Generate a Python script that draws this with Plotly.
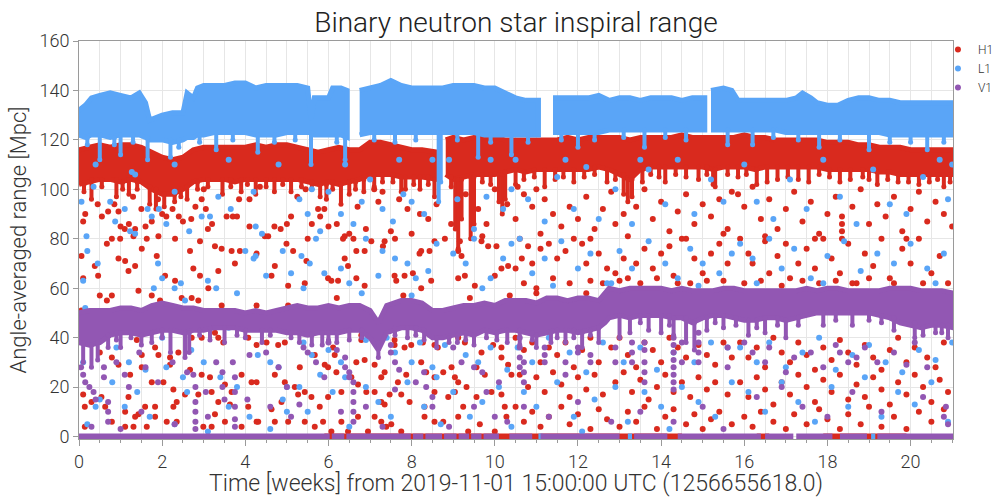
import plotly.graph_objects as go

# ---------------------------------------------------------------------------
# Detector colours
# ---------------------------------------------------------------------------
H1_COLOR = "#d92a1e"
L1_COLOR = "#5aa5f7"
V1_COLOR = "#9257b3"

# ---------------------------------------------------------------------------
# Dense range bands: time [weeks], lower / upper edge [Mpc]; None splits segments
# ---------------------------------------------------------------------------
H1_BAND_T = [0, 0.25, 0.5, 0.75, 1.0, 1.25, 1.5, 1.75, 2.0, 2.25, 2.5, 2.75, 3.0, 3.25, 3.5, 3.75,
             4.0, 4.25, 4.5, 4.75, 5.0, 5.25, 5.5, 5.75, 6.0, 6.25, 6.5, 6.75, 7.0, 7.25, 7.5, 7.75,
             8.0, 8.25, 8.62, None,
             8.82, 9.0, 9.25, 9.5, 9.75, 10.0, 10.25, 10.5, 10.75, 11.0, 11.25, 11.5, 11.75, 12.0,
             12.25, 12.5, 12.75, 13.0, 13.25, 13.5, 13.75, 14.0, 14.25, 14.5, 14.75, 15.0, 15.25,
             15.5, 15.75, 16.0, 16.25, 16.5, 16.75, 17.0, 17.25, 17.5, 17.75, 18.0, 18.25, 18.5,
             18.75, 19.0, 19.25, 19.5, 19.75, 20.0, 20.25, 20.5, 20.75, 21.02]
H1_BAND_LO = [102, 103, 104, 104, 103, 104, 103, 100, 98, 98, 100, 103, 104, 104, 104, 103,
              104, 104, 104, 104, 104, 104, 103, 102, 103, 102, 103, 104, 106, 106, 106, 105,
              105, 105, 104, None,
              106, 104, 105, 106, 106, 106, 107, 108, 107, 108, 108, 108, 108, 108,
              108, 109, 108, 106, 104, 108, 109, 109, 109, 109, 109, 109, 108,
              109, 109, 109, 108, 109, 109, 109, 109, 109, 109, 108, 108, 108,
              108, 108, 107, 107, 106, 106, 106, 106, 106, 106]
H1_BAND_HI = [116, 117, 118, 117, 118, 118, 117, 115, 113, 112, 113, 116, 117, 117, 117, 117,
              117, 118, 117, 118, 118, 117, 116, 115, 116, 117, 116, 116, 119, 119, 118, 117,
              116, 116, 115, None,
              120, 121, 120, 121, 121, 121, 120, 120, 120, 120, 120, 120, 121, 120,
              121, 121, 121, 121, 120, 121, 121, 121, 121, 122, 121, 121, 121,
              121, 121, 122, 121, 121, 120, 120, 120, 120, 120, 119, 119, 119,
              118, 118, 117, 117, 117, 116, 116, 116, 116, 116]

L1_BAND_T = [0, 0.15, 0.3, 0.5, 0.75, 1.0, 1.25, 1.45, 1.6, 1.7, 2.0, 2.25, 2.5, 2.6, 2.75, 2.85,
             3.0, 3.25, 3.5, 3.75, 4.0, 4.25, 4.5, 4.75, 5.0, 5.25, 5.5, 5.58, 5.66, 6.0, 6.1,
             6.3, 6.45, None,
             6.75, 7.0, 7.25, 7.5, 7.75, 8.0, 8.25, 8.5, 8.75, 9.0, 9.25, 9.5, 9.75, 10.0, 10.25,
             10.5, 10.75, 11.05, None,
             11.4, 11.75, 12.0, 12.25, 12.5, 12.75, 13.0, 13.25, 13.5, 13.75, 14.0, 14.25, 14.5,
             14.75, 15.05, None,
             15.2, 15.5, 15.7, 15.85, 16.25, 16.5, 16.75, 17.0, 17.25, 17.4, 17.6, 17.75, 18.0,
             18.25, 18.5, 18.75, 19.0, 19.25, 19.5, 19.75, 20.0, 20.5, 21.02]
L1_BAND_LO = [122, 121, 122, 122, 121, 122, 122, 122, 121, 120, 120, 119, 120, 121, 121, 122,
              122, 123, 123, 123, 123, 122, 122, 122, 123, 123, 123, 123, 122, 122, 122,
              122, 121, None,
              122, 123, 123, 123, 123, 123, 123, 123, 123, 123, 123, 123, 122, 122, 122,
              122, 122, 122, None,
              123, 123, 123, 123, 123, 124, 124, 124, 124, 124, 124, 124, 124,
              124, 124, None,
              124, 124, 124, 124, 124, 124, 124, 123, 123, 123, 123, 123, 123,
              123, 123, 123, 123, 123, 122, 122, 122, 122, 122]
L1_BAND_HI = [132, 134, 137, 138, 139, 138, 137, 139, 135, 128, 130, 131, 131, 139, 137, 141,
              142, 142, 142, 143, 143, 141, 142, 142, 142, 142, 141, 128, 137, 137, 141,
              141, 140, None,
              140, 141, 142, 144, 142, 141, 141, 141, 141, 142, 142, 142, 141, 141, 139,
              137, 136, 136, None,
              137, 137, 137, 137, 138, 136, 137, 137, 136, 137, 137, 137, 136,
              137, 137, None,
              140, 141, 140, 136, 136, 136, 136, 136, 137, 139, 137, 135, 134,
              134, 136, 137, 137, 136, 136, 135, 135, 135, 135]

V1_BAND_T = [0, 0.25, 0.5, 0.75, 1.0, 1.25, 1.5, 1.75, 2.0, 2.25, 2.5, 2.75, 3.0, 3.25, 3.5, 3.75,
             4.0, 4.25, 4.5, 4.75, 5.0, 5.25, 5.5, 5.75, 6.0, 6.25, 6.5, 6.75, 7.0, 7.2, 7.4, 7.75,
             8.0, 8.25, 8.5, 8.75, 9.0, 9.25, 9.5, 9.75, 10.0, 10.25, 10.5, 10.75, 11.0, 11.25,
             11.5, 11.75, 12.0, 12.25, 12.5, 12.65, 12.75, 13.0, 13.25, 13.5, 13.75, 14.0, 14.25,
             14.5, 14.75, 15.0, 15.25, 15.5, 15.75, 16.0, 16.25, 16.5, 16.75, 17.0, 17.25, 17.5,
             17.75, 18.0, 18.25, 18.5, 18.75, 19.0, 19.25, 19.5, 19.75, 20.0, 20.25, 20.5, 20.75,
             21.02]
V1_BAND_LO = [38, 37, 38, 41, 42, 42, 41, 42, 43, 43, 42, 43, 43, 44, 44, 44,
              43, 43, 43, 43, 42, 42, 41, 42, 42, 42, 43, 43, 40, 35, 42, 44,
              44, 43, 40, 40, 41, 42, 41, 43, 42, 43, 43, 42, 41, 42,
              43, 43, 42, 43, 44, 46, 48, 49, 48, 49, 49, 49, 48,
              48, 46, 48, 49, 49, 48, 47, 47, 48, 48, 47, 48, 49,
              50, 50, 50, 50, 50, 50, 49, 48, 46, 45, 44, 45, 45,
              44]
V1_BAND_HI = [50, 51, 51, 51, 52, 52, 51, 53, 54, 53, 52, 52, 51, 51, 51, 51,
              50, 51, 50, 51, 52, 53, 52, 52, 53, 52, 53, 53, 51, 46, 53, 55,
              55, 54, 51, 51, 52, 53, 53, 54, 53, 55, 55, 55, 54, 56,
              56, 55, 56, 56, 55, 58, 60, 59, 60, 60, 60, 60, 59,
              60, 59, 59, 59, 60, 60, 59, 59, 59, 59, 59, 59, 60,
              59, 60, 60, 59, 59, 59, 59, 60, 60, 60, 59, 59, 59,
              58]

# ---------------------------------------------------------------------------
# Short drops below each band: (week, from [Mpc], down to [Mpc])
# ---------------------------------------------------------------------------
H1_DIPS = [(0.3, 104, 96), (0.9, 104, 97), (1.2, 104, 98), (1.7, 101, 94), (1.85, 100, 92),
           (2.05, 98, 93), (2.3, 98, 95), (2.6, 101, 96), (3.45, 104, 98), (3.9, 104, 99),
           (4.25, 104, 98), (4.7, 104, 99), (5.1, 104, 99), (5.8, 102, 97), (5.95, 102, 96),
           (6.3, 102, 94), (6.5, 103, 98), (6.85, 104, 99), (7.1, 106, 101), (7.75, 105, 99),
           (7.85, 105, 100), (8.2, 105, 100), (8.55, 104, 97), (9.05, 104, 84), (9.12, 104, 76),
           (9.2, 104, 88), (9.42, 105, 80), (9.5, 105, 86), (10.1, 106, 95), (10.18, 106, 90),
           (10.25, 107, 96), (10.5, 108, 102), (11.2, 108, 101), (11.9, 108, 103), (12.7, 108, 103),
           (13.1, 106, 98), (13.2, 104, 95), (13.3, 104, 97), (13.55, 108, 103), (14.1, 109, 103),
           (14.9, 109, 104), (15.25, 108, 102), (15.3, 108, 101), (16.3, 108, 102), (16.55, 109, 103),
           (16.8, 109, 104), (17.3, 109, 104), (17.55, 109, 103), (18.3, 108, 103), (19.0, 108, 104),
           (19.2, 107, 102), (20.2, 106, 102), (20.8, 106, 101),
           (0.12, 102, 99), (0.55, 104, 101), (1.05, 103, 100), (1.4, 103, 100), (2.45, 100, 97),
           (2.85, 103, 100), (3.1, 104, 101), (3.65, 104, 101), (4.05, 104, 102), (4.5, 104, 101),
           (4.9, 104, 102), (5.35, 104, 101), (5.6, 103, 100), (6.1, 103, 100), (6.65, 103, 100),
           (7.3, 106, 103), (7.55, 106, 103), (8.05, 105, 102), (8.4, 105, 102), (8.95, 105, 101),
           (9.7, 106, 103), (9.9, 106, 102), (10.7, 107, 104), (10.95, 108, 105), (11.45, 108, 104),
           (11.65, 108, 105), (12.15, 108, 105), (12.4, 109, 106), (12.9, 107, 104), (13.75, 109, 106),
           (13.95, 109, 105), (14.35, 109, 106), (14.6, 109, 105), (15.1, 109, 106), (15.6, 109, 106),
           (15.85, 109, 105), (16.05, 109, 106), (17.05, 109, 105), (17.8, 109, 106), (18.05, 108, 105),
           (18.55, 108, 104), (18.85, 108, 105), (19.45, 107, 104), (19.7, 106, 103), (19.95, 106, 103),
           (20.45, 106, 103), (20.65, 106, 104), (20.95, 106, 103)]
L1_DIPS = [(0.5, 122, 112), (1.0, 122, 114), (1.65, 121, 112), (2.2, 120, 113), (3.3, 123, 116),
           (4.3, 122, 115), (5.58, 123, 110), (6.4, 121, 112), (8.65, 123, 95), (8.7, 123, 103),
           (9.6, 123, 113), (10.4, 122, 114), (12.0, 123, 117), (13.6, 124, 117), (15.6, 124, 118),
           (16.2, 124, 118), (17.8, 123, 117), (19.0, 123, 116), (20.4, 122, 116),
           (0.2, 121, 118), (0.85, 121, 118), (1.3, 122, 119), (2.4, 120, 117), (2.9, 122, 119),
           (3.7, 123, 120), (4.7, 122, 119), (5.2, 123, 120), (6.2, 122, 119), (7.1, 123, 120),
           (7.6, 123, 119), (8.1, 123, 120), (9.1, 123, 120), (9.9, 122, 119), (10.8, 122, 119),
           (11.6, 123, 120), (12.4, 123, 120), (13.1, 124, 121), (14.1, 124, 121), (14.6, 124, 120),
           (16.7, 124, 121), (17.3, 123, 120), (18.3, 123, 120), (19.5, 122, 119), (20.0, 122, 119),
           (20.8, 122, 119)]
V1_DIPS = [(0.1, 38, 30), (0.3, 37, 28), (0.45, 38, 31), (0.7, 41, 36), (1.0, 42, 36),
           (1.5, 41, 37), (1.75, 42, 38), (2.2, 43, 34), (2.55, 42, 32), (2.65, 42, 34),
           (3.15, 44, 39), (3.5, 44, 38), (4.0, 43, 40), (4.4, 43, 38), (5.3, 42, 38),
           (5.6, 41, 37), (5.85, 42, 37), (6.2, 42, 38), (6.5, 43, 39), (7.2, 38, 32),
           (7.9, 44, 40), (8.3, 43, 39), (8.6, 40, 36), (9.1, 41, 38), (9.5, 41, 37),
           (10.3, 43, 38), (10.6, 43, 37), (11.0, 41, 36), (11.35, 42, 38), (11.7, 43, 38),
           (12.1, 42, 36), (12.5, 44, 38), (13.0, 49, 40), (13.25, 48, 42), (13.7, 49, 43),
           (14.0, 49, 42), (14.3, 48, 41), (14.6, 48, 38), (14.8, 46, 35), (15.1, 48, 43),
           (15.5, 49, 44), (16.1, 47, 41), (16.5, 48, 42), (17.0, 47, 40), (17.9, 50, 45),
           (18.6, 50, 45), (19.6, 48, 43), (20.1, 46, 40), (20.6, 46, 42), (20.9, 45, 40),
           (0.9, 42, 39), (1.25, 42, 40), (2.0, 43, 40), (2.9, 43, 41), (3.8, 44, 41),
           (4.6, 43, 41), (5.1, 42, 40), (6.0, 42, 39), (6.8, 43, 40), (7.6, 44, 41),
           (8.1, 44, 41), (8.9, 40, 38), (9.3, 42, 39), (9.8, 43, 40), (10.05, 42, 39),
           (10.9, 42, 39), (11.5, 43, 40), (11.9, 43, 40), (12.3, 43, 41), (13.5, 49, 46),
           (14.2, 49, 45), (15.3, 49, 46), (15.8, 48, 45), (16.3, 47, 44), (16.8, 48, 45),
           (17.3, 48, 45), (18.2, 50, 47), (19.0, 50, 47), (19.3, 49, 46), (20.3, 44, 41),
           (20.75, 45, 42)]

# ---------------------------------------------------------------------------
# Intervals with zero range: (start week, end week)
# ---------------------------------------------------------------------------
H1_ZERO = [(5.9, 14.5), (16.3, 16.6), (17.9, 19.9)]
L1_ZERO = [(11.05, 11.15), (13.2, 13.3), (19.05, 19.15)]
V1_ZERO = [(0.0, 6.03), (6.08, 6.38), (6.43, 7.98), (8.03, 8.28), (8.33, 8.73), (8.78, 9.08),
           (9.13, 9.38), (9.43, 9.68), (9.73, 10.1), (10.35, 10.9), (11.1, 13.0), (13.35, 14.15),
           (14.4, 16.4), (16.5, 17.18), (17.25, 18.12), (18.3, 18.95), (19.2, 21.02)]

# ---------------------------------------------------------------------------
# Isolated range samples: (week, Mpc)
# ---------------------------------------------------------------------------
H1_POINTS = [
    (0.67, 78), (0.79, 80), (0.99, 80), (1.31, 81), (1.63, 80), (1.91, 81), (2.31, 80), (2.67, 75),
    (2.91, 79), (3.27, 77), (3.43, 76), (3.67, 75), (3.87, 75), (4.27, 74), (4.47, 81), (4.99, 78),
    (5.15, 75), (0.06, 73), (0.38, 69), (0.46, 65), (0.95, 72), (1.11, 71), (1.35, 69), (1.19, 67),
    (1.51, 76), (1.87, 73), (2.07, 65), (2.31, 63), (2.75, 68), (2.91, 65), (3.11, 60), (3.35, 67),
    (3.75, 70), (4.71, 69), (5.03, 61), (4.63, 65), (0.10, 64), (0.50, 57), (0.06, 51), (0.67, 55),
    (0.79, 57), (1.43, 59), (1.75, 57), (1.95, 55), (2.47, 56), (2.71, 56), (2.87, 55), (3.43, 53),
    (4.27, 53), (5.03, 53), (0.71, 41), (0.42, 46), (1.11, 45), (1.39, 39), (1.83, 36), (1.91, 33),
    (2.19, 32), (2.39, 34), (2.71, 40), (2.95, 40), (3.27, 42), (3.35, 40), (3.47, 38), (4.07, 40),
    (4.27, 37), (4.51, 38), (4.79, 37), (4.95, 38), (0.50, 34), (0.79, 32), (0.95, 29), (1.51, 33),
    (1.51, 28), (1.23, 25), (1.75, 22), (2.03, 22), (2.19, 29), (2.27, 19), (2.67, 27), (2.95, 25),
    (3.15, 24), (3.51, 21), (3.91, 25), (4.15, 22), (4.27, 22), (4.71, 25), (4.95, 22), (5.19, 20),
    (0.10, 17), (0.14, 12), (0.30, 14), (0.54, 16), (0.63, 12), (1.19, 16), (1.11, 10), (1.35, 8),
    (1.43, 9), (1.59, 12), (1.83, 12), (2.27, 12), (2.35, 14), (2.55, 17), (2.87, 17), (3.19, 18),
    (3.35, 14), (3.27, 9), (3.67, 18), (3.63, 13), (4.07, 12), (4.27, 6), (4.63, 11), (4.87, 14),
    (5.03, 6), (0.14, 4), (0.79, 6), (1.11, 4), (1.31, 4), (1.63, 4), (1.83, 8), (2.11, 6),
    (2.35, 6), (2.99, 4), (3.19, 4), (3.51, 6), (3.91, 4), (4.31, 6), (4.71, 6),
    (5.47, 71), (6.39, 72), (6.67, 75), (6.87, 75), (7.31, 77), (7.35, 79), (6.39, 81), (7.03, 79),
    (8.23, 75), (8.19, 74), (8.43, 75), (8.55, 79), (9.12, 75), (9.2, 73), (9.16, 79), (9.68, 79),
    (9.84, 77), (10.04, 77), (10.16, 68), (10.32, 69), (5.99, 64), (6.07, 63), (6.23, 63), (6.47, 69),
    (6.67, 64), (6.87, 61), (7.59, 65), (7.63, 63), (7.83, 65), (8.03, 66), (8.23, 60), (8.47, 63),
    (9.12, 64), (9.28, 65), (9.52, 61), (10.0, 65), (10.36, 57), (5.43, 62), (6.2, 56), (7.8, 57),
    (9.4, 56), (6.11, 36), (6.15, 33), (6.79, 41), (6.79, 39), (7.59, 39), (7.59, 37), (7.83, 36),
    (7.99, 37), (8.27, 38), (8.55, 37), (8.63, 36), (8.88, 41), (9.12, 40), (9.28, 38), (9.68, 34),
    (9.96, 37), (10.16, 36), (5.31, 28), (5.67, 33), (5.91, 29), (5.99, 28), (6.19, 26), (6.67, 30),
    (6.87, 31), (7.11, 29), (7.35, 26), (7.27, 24), (7.67, 22), (7.87, 25), (8.23, 30), (8.35, 26),
    (8.55, 24), (8.76, 26), (8.96, 28), (9.04, 24), (9.12, 22), (9.32, 20), (9.56, 28), (9.76, 25),
    (10.16, 32), (10.32, 29), (10.4, 25), (5.27, 17), (5.43, 18), (5.59, 16), (5.79, 12), (5.99, 16),
    (6.31, 18), (6.55, 24), (6.71, 21), (6.91, 18), (7.11, 18), (7.27, 14), (7.35, 13), (7.47, 17),
    (7.75, 17), (7.95, 14), (8.31, 12), (8.55, 18), (8.88, 16), (9.04, 18), (9.24, 12), (9.56, 16),
    (9.92, 18), (10.16, 17), (10.24, 12), (5.43, 6), (5.67, 4), (5.87, 6), (6.07, 2), (6.31, 6),
    (6.47, 2), (6.71, 8), (6.95, 2), (7.11, 8), (7.27, 6), (7.39, 4), (7.51, 5), (7.75, 2),
    (8.31, 8), (8.55, 6), (8.76, 6), (9.12, 8), (9.36, 2), (9.64, 5), (10.0, 2), (10.28, 8),
    (10.6, 80), (10.65, 72), (10.8, 77), (10.9, 70), (11.1, 76), (11.3, 78), (11.5, 72), (11.7, 75),
    (11.9, 80), (12.1, 78), (12.2, 70), (12.5, 74), (12.7, 68), (12.9, 66), (13.1, 72), (13.2, 64),
    (13.4, 70), (13.6, 76), (13.8, 68), (14.0, 74), (14.2, 77), (14.3, 65), (14.6, 80), (14.8, 72),
    (15.0, 66), (15.2, 74), (15.4, 78), (15.6, 70), (10.5, 68), (10.7, 62), (11.0, 60), (11.4, 64),
    (11.8, 62), (12.3, 63), (12.6, 62), (13.0, 63), (13.5, 62), (13.9, 64), (14.4, 62), (14.7, 62),
    (15.1, 63), (15.5, 63), (11.0, 58), (12.2, 58),
    (10.5, 40), (10.7, 35), (10.9, 38), (11.1, 30), (11.3, 36), (11.5, 33), (11.7, 38), (11.9, 28),
    (12.1, 35), (12.3, 40), (12.5, 30), (12.8, 36), (13.0, 40), (13.2, 33), (13.4, 28), (13.6, 38),
    (13.8, 35), (14.0, 30), (14.2, 40), (14.4, 36), (14.6, 32), (14.9, 37), (15.1, 33), (15.3, 29),
    (15.5, 38), (15.7, 32), (10.6, 25), (10.8, 20), (11.0, 24), (11.2, 18), (11.4, 26), (11.6, 21),
    (11.8, 16), (12.0, 24), (12.2, 19), (12.4, 25), (12.6, 17), (12.9, 22), (13.1, 26), (13.3, 18),
    (13.5, 23), (13.7, 15), (13.9, 20), (14.1, 25), (14.3, 18), (14.5, 22), (14.7, 16), (14.9, 24),
    (15.1, 19), (15.3, 22), (15.6, 17), (10.5, 12), (10.7, 6), (10.9, 10), (11.1, 4), (11.3, 8),
    (11.6, 12), (11.8, 5), (12.0, 9), (12.3, 3), (12.5, 11), (12.7, 7), (13.0, 4), (13.2, 10),
    (13.4, 6), (13.6, 12), (13.9, 3), (14.1, 8), (14.3, 11), (14.6, 5), (14.8, 9), (15.0, 3),
    (15.2, 7), (15.4, 10), (15.7, 5),
    (15.9, 80), (16.1, 74), (16.2, 70), (16.5, 79), (16.6, 66), (16.8, 73), (17.0, 78), (17.1, 64),
    (17.3, 70), (17.5, 76), (17.7, 68), (17.9, 80), (18.1, 72), (18.3, 66), (18.5, 78), (18.7, 62),
    (18.9, 74), (19.1, 69), (19.3, 80), (19.5, 64), (19.8, 76), (20.0, 70), (20.2, 80), (20.5, 66),
    (20.7, 73), (20.9, 62), (16.0, 62), (16.4, 63), (16.9, 61), (17.4, 63), (17.8, 62), (18.2, 63),
    (18.6, 62), (19.0, 64), (19.6, 62), (20.3, 62),
    (15.9, 38), (16.1, 32), (16.3, 36), (16.5, 28), (16.7, 40), (16.9, 34), (17.1, 30), (17.3, 38),
    (17.5, 33), (17.7, 27), (17.9, 36), (18.1, 31), (18.3, 39), (18.5, 34), (18.7, 29), (18.9, 37),
    (19.1, 32), (19.3, 27), (19.5, 35), (19.7, 40), (19.9, 30), (20.1, 36), (20.4, 32), (20.6, 28),
    (20.8, 38), (15.9, 22), (16.1, 16), (16.3, 24), (16.5, 19), (16.7, 13), (16.9, 22), (17.1, 17),
    (17.3, 25), (17.5, 20), (17.7, 14), (17.9, 23), (18.1, 18), (18.3, 25), (18.5, 15), (18.7, 21),
    (18.9, 16), (19.1, 24), (19.3, 19), (19.5, 13), (19.7, 22), (19.9, 17), (20.1, 25), (20.3, 20),
    (20.5, 14), (20.7, 23), (20.9, 18), (16.0, 8), (16.2, 4), (16.4, 10), (16.7, 6), (17.0, 3),
    (17.2, 9), (17.5, 5), (17.8, 11), (18.0, 7), (18.3, 3), (18.5, 9), (18.8, 5), (19.0, 12),
    (19.3, 4), (19.6, 8), (19.9, 3), (20.2, 10), (20.5, 6), (20.8, 11),
    (0.1, 87), (0.15, 90), (0.45, 94), (0.55, 89), (0.7, 91), (0.85, 94), (0.95, 91), (1.0, 85),
    (1.1, 84), (1.2, 86), (1.35, 84), (1.5, 92), (1.6, 85), (1.75, 87), (1.9, 96), (2.1, 89),
    (2.25, 92), (2.4, 89), (2.5, 87), (2.7, 88), (2.8, 93), (2.95, 96), (3.05, 92), (3.1, 84),
    (3.2, 86), (3.55, 89), (3.7, 89), (3.8, 89), (3.85, 96), (4.1, 96), (4.1, 85), (4.35, 101),
    (4.55, 81), (4.7, 85), (4.85, 84), (5.0, 86), (5.1, 89), (2.0, 90), (3.0, 100), (1.3, 97),
    (5.25, 97), (5.45, 100), (5.6, 86), (5.75, 92), (5.8, 89), (5.9, 92), (6.0, 85), (6.2, 86),
    (6.35, 80), (6.5, 82), (6.7, 93), (6.9, 84), (7.1, 100), (7.2, 95), (7.3, 99), (7.5, 83),
    (7.7, 96), (7.9, 92), (8.0, 82), (8.2, 90), (8.4, 88), (8.6, 94), (8.95, 86), (9.3, 98),
    (9.6, 92), (9.8, 86), (10.0, 100), (10.3, 94), (10.5, 88), (5.5, 80), (6.6, 80), (7.6, 80),
    (8.8, 80), (9.7, 81),
    (10.55, 101), (10.7, 98), (10.9, 93), (11.0, 100), (11.2, 96), (11.4, 90), (11.6, 85), (11.8, 93),
    (12.0, 88), (12.2, 97), (12.4, 84), (12.6, 92), (12.8, 99), (12.9, 86), (13.1, 90), (13.4, 93),
    (13.6, 100), (13.8, 88), (14.0, 95), (14.2, 83), (14.4, 91), (14.6, 98), (14.8, 86), (15.0, 94),
    (15.2, 89), (15.4, 96), (15.6, 84), (15.7, 99), (11.1, 82), (12.3, 80), (13.2, 81), (14.5, 80),
    (15.5, 82),
    (15.85, 98), (16.0, 93), (16.2, 101), (16.4, 88), (16.6, 96), (16.8, 84), (17.0, 92), (17.2, 99),
    (17.4, 87), (17.6, 95), (17.8, 82), (18.0, 90), (18.2, 97), (18.35, 86), (18.35, 89), (18.35, 83),
    (18.35, 80), (18.6, 93), (18.8, 100), (19.0, 86), (19.2, 94), (19.4, 89), (19.6, 97), (19.8, 83),
    (20.0, 92), (20.2, 99), (20.4, 87), (20.6, 95), (20.8, 90), (21.0, 85), (16.5, 81), (17.7, 80),
    (19.9, 80),
]

L1_POINTS = [
    (0.2, 75), (0.45, 70), (0.1, 63), (1.9, 70), (2.0, 64), (2.3, 60), (2.45, 62), (2.55, 55),
    (1.8, 60), (3.1, 63), (3.3, 60), (3.8, 58), (4.0, 75), (4.2, 72), (4.25, 73), (4.5, 65),
    (4.9, 75), (5.1, 66), (0.15, 52), (0.5, 49), (1.0, 48), (0.1, 30), (0.3, 38), (0.9, 36),
    (1.2, 30), (1.6, 27), (2.1, 28), (2.5, 24), (2.7, 35), (3.0, 30), (3.4, 24), (4.3, 33),
    (4.6, 30), (4.8, 28), (5.0, 20), (0.2, 5), (0.5, 15), (1.1, 12), (1.7, 8), (2.3, 5),
    (2.6, 18), (3.6, 12), (4.1, 8), (4.6, 3), (5.0, 10), (3.1, 2), (0.8, 22), (1.4, 18),
    (3.8, 20), (4.9, 15), (0.4, 12), (2.0, 40), (3.6, 44), (1.3, 43),
    (5.35, 73), (5.55, 70), (5.7, 80), (5.9, 66), (6.3, 68), (6.5, 62), (6.9, 80), (7.2, 65),
    (7.3, 75), (7.6, 72), (7.9, 70), (8.1, 64), (8.4, 67), (8.6, 78), (9.0, 74), (9.3, 70),
    (9.5, 80), (9.7, 60), (9.9, 64), (10.2, 72), (10.4, 78), (5.4, 60), (6.8, 58), (8.0, 57),
    (5.4, 38), (5.6, 33), (6.0, 35), (6.3, 30), (6.9, 39), (7.4, 40), (7.6, 34), (8.0, 30),
    (8.2, 38), (8.5, 28), (8.8, 37), (9.3, 33), (9.6, 30), (9.9, 36), (10.3, 27), (5.3, 20),
    (5.5, 10), (5.8, 25), (6.1, 18), (6.5, 4), (6.9, 20), (7.2, 14), (7.5, 8), (7.9, 22),
    (8.3, 12), (8.7, 5), (9.0, 18), (9.4, 8), (9.7, 14), (10.1, 20), (10.4, 4), (6.4, 24),
    (8.6, 24),
    (10.6, 80), (10.9, 66), (11.2, 72), (11.6, 79), (12.0, 68), (12.3, 74), (12.7, 62), (13.0, 75),
    (13.3, 68), (13.7, 79), (14.1, 70), (14.4, 64), (14.7, 76), (15.0, 70), (15.4, 66), (15.7, 74),
    (11.4, 61), (12.8, 62), (14.9, 61), (10.55, 36), (10.9, 30), (11.3, 40), (11.8, 34), (12.2, 26),
    (12.6, 38), (13.1, 30), (13.5, 36), (13.9, 27), (14.3, 34), (14.8, 30), (15.2, 38), (15.6, 36),
    (10.7, 18), (11.0, 12), (11.5, 22), (11.9, 8), (12.4, 15), (12.9, 20), (13.2, 6), (13.6, 18),
    (14.0, 12), (14.5, 20), (14.9, 14), (15.3, 8), (15.7, 22), (12.1, 2), (14.2, 3),
    (15.9, 78), (16.2, 72), (16.6, 80), (16.9, 68), (17.2, 76), (17.6, 64), (18.0, 73), (18.4, 79),
    (18.8, 67), (19.2, 74), (19.6, 70), (20.0, 78), (20.4, 68), (20.8, 74), (16.3, 62), (17.9, 62),
    (20.6, 62), (15.9, 36), (16.3, 30), (16.6, 38), (17.0, 28), (17.4, 34), (17.8, 40), (18.2, 27),
    (18.6, 33), (19.0, 37), (19.4, 30), (19.8, 26), (20.2, 35), (20.6, 31), (21.0, 38), (16.1, 18),
    (16.5, 10), (16.9, 22), (17.3, 14), (17.7, 6), (18.1, 20), (18.5, 12), (18.9, 24), (19.3, 8),
    (19.7, 18), (20.1, 13), (20.5, 22), (20.9, 6),
    (0.06, 95), (0.18, 81), (0.35, 101), (0.75, 95), (0.87, 87), (1.1, 92), (1.23, 83), (1.35, 82),
    (1.65, 92), (1.75, 89), (1.92, 92), (2.1, 86), (2.3, 99), (2.65, 83), (2.95, 89), (3.15, 89),
    (3.35, 97), (3.65, 92), (4.2, 99), (4.25, 85), (4.4, 82), (1.27, 107), (1.35, 106), (2.3, 110),
    (3.6, 112), (0.4, 110), (4.8, 110),
    (5.3, 96), (5.5, 90), (5.6, 100), (5.8, 83), (6.0, 99), (6.3, 90), (6.6, 86), (6.8, 95),
    (7.0, 104), (7.3, 92), (7.55, 87), (7.8, 98), (8.0, 95), (8.3, 90), (8.5, 112), (8.9, 112),
    (9.1, 96), (9.5, 84), (9.8, 97), (10.2, 92), (10.4, 100), (6.4, 110), (7.7, 112), (9.9, 112),
    (10.5, 112), (10.8, 96), (11.2, 87), (11.5, 105), (11.9, 92), (12.2, 109), (12.5, 88), (12.9, 100),
    (13.3, 86), (13.7, 108), (14.1, 94), (14.4, 112), (14.8, 90), (15.2, 104), (15.5, 95), (11.7, 112),
    (13.5, 112),
    (16.0, 110), (16.3, 95), (16.7, 88), (17.1, 104), (17.5, 92), (17.9, 112), (18.3, 97), (18.7, 86),
    (19.1, 108), (19.5, 94), (19.9, 90), (20.3, 105), (20.7, 112), (21.0, 110), (20.9, 96),
]

V1_POINTS = [
    (0.05, 28), (0.1, 25), (0.15, 22), (0.25, 20), (0.35, 18), (0.4, 15), (0.6, 28), (0.6, 24),
    (0.7, 14), (0.7, 10), (0.7, 6), (0.9, 30), (1.1, 25), (1.2, 20), (1.45, 34), (1.6, 28),
    (1.9, 22), (2.25, 30), (2.6, 26), (2.75, 25), (2.8, 20), (2.8, 14), (2.8, 10), (2.8, 6),
    (2.8, 3), (3.05, 18), (3.3, 30), (3.45, 26), (3.45, 20), (3.5, 15), (3.7, 30), (3.75, 24),
    (3.75, 18), (3.75, 12), (3.75, 7), (3.75, 4), (4.1, 33), (4.5, 34), (4.8, 28), (5.0, 20),
    (5.1, 8), (4.05, 15), (1.5, 10), (2.3, 5), (3.1, 8), (4.6, 12), (0.3, 4), (1.0, 3),
    (5.4, 36), (5.5, 34), (5.7, 30), (6.0, 38), (6.2, 35), (6.4, 32), (6.4, 28), (6.5, 26),
    (6.5, 24), (6.6, 22), (6.6, 18), (6.6, 14), (6.6, 10), (6.6, 6), (6.3, 10), (7.5, 37),
    (7.5, 34), (7.6, 30), (7.7, 27), (7.6, 19), (8.1, 22), (8.3, 26), (8.35, 20), (8.5, 16),
    (8.5, 12), (9.0, 36), (9.2, 30), (9.5, 28), (9.7, 26), (9.8, 18), (9.5, 12), (10.0, 8),
    (10.3, 6), (10.1, 22), (5.3, 13), (5.9, 24), (6.9, 12), (7.3, 4), (8.9, 4),
    (10.6, 40), (10.6, 36), (10.6, 32), (10.6, 28), (10.7, 30), (10.7, 26), (10.7, 22), (11.2, 36),
    (11.2, 33), (11.2, 30), (11.7, 30), (11.7, 25), (12.0, 36), (12.0, 34), (12.3, 33), (12.3, 30),
    (12.9, 36), (12.9, 30), (13.3, 38), (13.3, 34), (13.3, 30), (13.6, 38), (13.6, 35), (13.6, 30),
    (13.6, 26), (13.6, 22), (14.3, 40), (14.3, 37), (14.3, 34), (14.3, 31), (14.3, 28), (14.3, 25),
    (14.3, 22), (14.3, 19), (14.5, 38), (14.5, 30), (14.9, 42), (14.9, 38), (14.9, 34), (14.9, 30),
    (15.6, 36), (15.6, 28), (10.7, 12), (11.3, 8), (12.0, 14), (12.8, 6), (13.5, 10), (14.3, 6),
    (15.0, 12), (15.5, 3),
    (16.0, 38), (16.2, 34), (16.5, 30), (16.6, 36), (17.0, 26), (17.2, 32), (17.6, 34), (17.9, 28),
    (18.2, 37), (18.3, 34), (18.5, 30), (18.7, 32), (18.9, 36), (19.2, 30), (19.6, 34), (19.9, 29),
    (20.1, 38), (20.4, 28), (16.3, 16), (16.9, 20), (17.4, 12), (18.0, 8), (18.6, 18), (19.3, 10),
    (20.3, 16), (20.8, 8), (20.9, 5), (20.85, 12),
]


def band_shape(t, lo, hi):
    """Closed outline(s) of a band; None entries start a new piece."""
    xs, ys, seg = [], [], []
    for ti, a, b in list(zip(t, lo, hi)) + [(None, None, None)]:
        if ti is None:
            if seg:
                xs += [s[0] for s in seg] + [s[0] for s in reversed(seg)] + [None]
                ys += [s[1] for s in seg] + [s[2] for s in reversed(seg)] + [None]
            seg = []
        else:
            seg.append((ti, a, b))
    return xs, ys


def dip_lines(dips):
    xs, ys = [], []
    for t, top, bottom in dips:
        xs += [t, t, None]
        ys += [top, bottom, None]
    return xs, ys


def zero_lines(intervals):
    xs, ys = [], []
    for a, b in intervals:
        xs += [a, b, None]
        ys += [0, 0, None]
    return xs, ys


fig = go.Figure()

detectors = [
    ("H1", H1_COLOR, H1_BAND_T, H1_BAND_LO, H1_BAND_HI, H1_DIPS, H1_ZERO, H1_POINTS),
    ("L1", L1_COLOR, L1_BAND_T, L1_BAND_LO, L1_BAND_HI, L1_DIPS, L1_ZERO, L1_POINTS),
    ("V1", V1_COLOR, V1_BAND_T, V1_BAND_LO, V1_BAND_HI, V1_DIPS, V1_ZERO, V1_POINTS),
]

for name, color, bt, blo, bhi, dips, zeros, points in detectors:
    px = [p[0] for p in points]
    py = [p[1] for p in points]
    fig.add_trace(go.Scatter(x=px, y=py, mode="markers", name=name,
                             marker=dict(color=color, size=6, line=dict(width=0)),
                             hoverinfo="skip"))
    bx, by = band_shape(bt, blo, bhi)
    fig.add_trace(go.Scatter(x=bx, y=by, mode="lines", fill="toself", fillcolor=color,
                             line=dict(color=color, width=5, shape="linear"),
                             showlegend=False, hoverinfo="skip"))
    dx, dy = dip_lines(dips)
    fig.add_trace(go.Scatter(x=dx, y=dy, mode="lines+markers", line=dict(color=color, width=4),
                             marker=dict(color=color, size=5),
                             showlegend=False, hoverinfo="skip"))
    zx, zy = zero_lines(zeros)
    fig.add_trace(go.Scatter(x=zx, y=zy, mode="lines", line=dict(color=color, width=6),
                             showlegend=False, hoverinfo="skip"))

AXIS_GREY = "#9a9a9a"
GRID_GREY = "#e6e6e6"

fig.update_layout(
    width=996, height=497,
    margin=dict(l=79, r=43, t=41, b=58, autoexpand=False),
    paper_bgcolor="white", plot_bgcolor="white",
    font=dict(family="Roboto", size=18, color="#333333", weight=300),
    title=dict(text="Binary neutron star inspiral range", x=0.5, xref="paper", xanchor="center",
               y=0.955, yref="container", yanchor="middle",
               font=dict(size=28, color="#222222", weight=300)),
    legend=dict(x=0.9828, y=1.015, xanchor="left", yanchor="top", bgcolor="rgba(0,0,0,0)",
                font=dict(size=12, color="#333333"), itemsizing="trace", tracegroupgap=0),
    xaxis=dict(range=[0, 21.02], tickmode="linear", tick0=0, dtick=2,
               ticks="outside", ticklen=6, tickcolor=AXIS_GREY,
               showline=True, linecolor=AXIS_GREY, linewidth=1, mirror=True,
               showgrid=True, gridcolor=GRID_GREY, zeroline=False,
               minor=dict(dtick=0.5, ticks="outside", ticklen=3, tickcolor=AXIS_GREY,
                          showgrid=True, gridcolor=GRID_GREY),
               title=dict(text="Time [weeks] from 2019-11-01 15:00:00 UTC (1256655618.0)",
                          font=dict(size=23, color="#333333"), standoff=4)),
    yaxis=dict(range=[-1, 160], tickmode="linear", tick0=0, dtick=20,
               ticks="outside", ticklen=5, tickcolor=AXIS_GREY,
               showline=True, linecolor=AXIS_GREY, linewidth=1, mirror=True,
               showgrid=True, gridcolor=GRID_GREY, zeroline=False,
               title=dict(text="Angle-averaged range [Mpc]",
                          font=dict(size=22, color="#333333"), standoff=6)),
)

fig.write_html("out.html")
